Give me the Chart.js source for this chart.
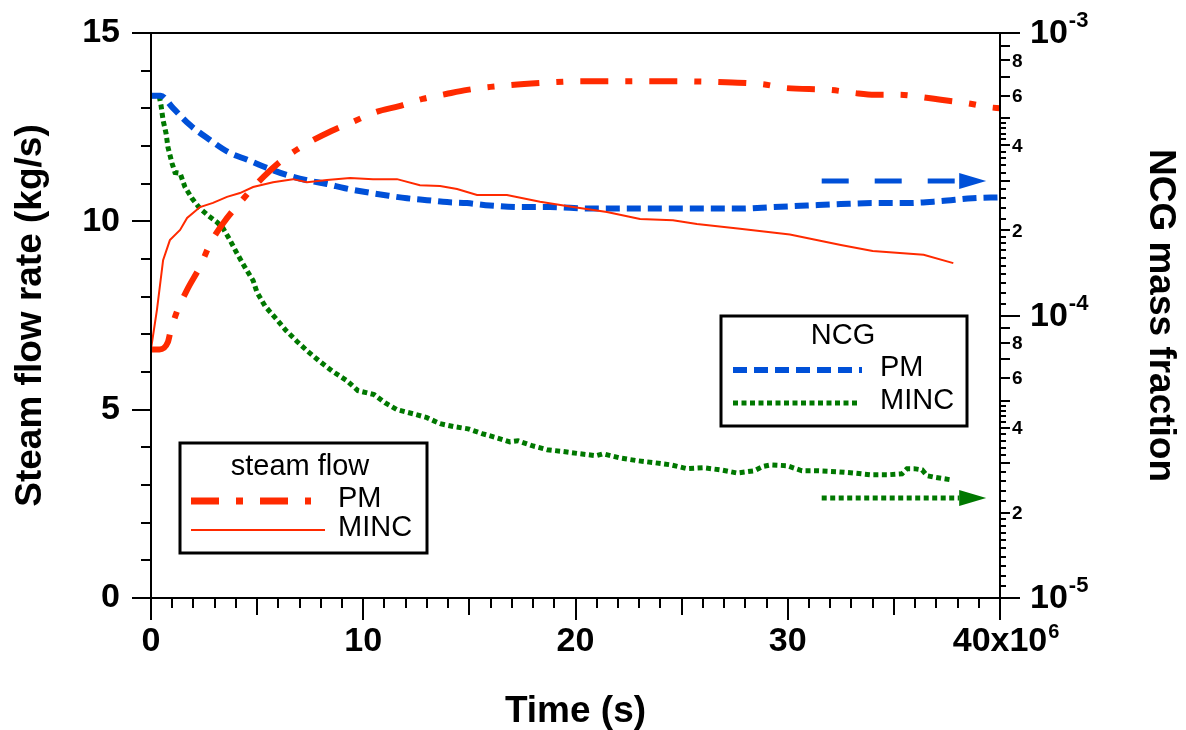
<!DOCTYPE html>
<html>
<head>
<meta charset="utf-8">
<title>Steam flow rate and NCG mass fraction</title>
<script src="https://cdn.jsdelivr.net/npm/chart.js@4.4.1/dist/chart.umd.min.js"></script>
<style>
  html, body { margin: 0; padding: 0; background: #fff; }
  #wrap { width: 1186px; height: 730px; }
</style>
</head>
<body>
<div id="wrap"><canvas id="chart" width="1186" height="730"></canvas></div>
<script>
// values, time in units of 1e6 s

const steamPmTime = [0, 0.4, 0.8, 0.9, 1.2, 1.7, 2.3, 2.8, 3.4, 4.3, 5.3, 6.3, 7.4, 8.5, 9.5, 10.6, 11.7, 12.8, 13.9, 14.9, 16.0, 18.3, 20.3, 22.3, 24.5, 26.7, 28.8, 29.9, 32.0, 33.1, 34.1, 35.2, 36.3, 37.3, 38.4, 39.5, 40];
const steamPmFlow = [6.6, 6.6, 6.8, 7.03, 7.57, 8.18, 8.79, 9.42, 9.95, 10.57, 11.18, 11.68, 12.08, 12.40, 12.64, 12.90, 13.06, 13.25, 13.38, 13.49, 13.57, 13.67, 13.72, 13.72, 13.72, 13.70, 13.64, 13.54, 13.49, 13.41, 13.36, 13.36, 13.30, 13.22, 13.14, 13.03, 13.0];

const steamMincTime = [0, 0.28, 0.57, 0.89, 1.37, 1.70, 2.31, 2.92, 3.58, 4.19, 4.81, 5.75, 6.69, 7.35, 8.29, 9.38, 10.46, 11.59, 12.67, 13.62, 14.42, 15.36, 16.77, 18.33, 19.88, 21.48, 23.04, 24.59, 25.72, 27.75, 30.1, 32.5, 34.0, 36.4, 37.8];
const steamMincFlow = [6.61, 7.65, 8.97, 9.50, 9.77, 10.09, 10.38, 10.49, 10.65, 10.75, 10.91, 11.04, 11.12, 11.04, 11.10, 11.15, 11.12, 11.12, 10.96, 10.94, 10.86, 10.70, 10.70, 10.52, 10.38, 10.25, 10.06, 10.03, 9.93, 9.80, 9.65, 9.37, 9.21, 9.11, 8.89];

const ncgPmTime = [0, 0.45, 1.04, 1.84, 2.78, 3.63, 4.57, 5.51, 6.41, 7.35, 8.29, 9.14, 10.18, 11.12, 12.06, 13.0, 13.95, 14.89, 15.97, 17.53, 18.8, 20.68, 23.04, 25.4, 27.75, 29.3, 30.9, 32.5, 34.0, 35.6, 37.2, 38.7, 40];
const ncgPmFrac = [6.0e-4, 6.0e-4, 5.42e-4, 4.72e-4, 4.18e-4, 3.79e-4, 3.55e-4, 3.32e-4, 3.14e-4, 3.01e-4, 2.92e-4, 2.82e-4, 2.73e-4, 2.66e-4, 2.60e-4, 2.56e-4, 2.52e-4, 2.50e-4, 2.45e-4, 2.42e-4, 2.42e-4, 2.39e-4, 2.39e-4, 2.39e-4, 2.39e-4, 2.42e-4, 2.45e-4, 2.48e-4, 2.50e-4, 2.50e-4, 2.54e-4, 2.60e-4, 2.62e-4];

const ncgMincTime = [0, 0.38, 0.47, 0.57, 0.71, 0.80, 0.99, 1.13, 1.37, 1.60, 1.93, 2.31, 2.69, 3.11, 3.39, 3.72, 4.05, 4.43, 4.81, 4.99, 5.37, 5.89, 6.36, 6.88, 7.40, 7.96, 8.57, 9.23, 9.75, 10.51, 11.02, 11.59, 12.34, 13.0, 13.62, 14.28, 14.94, 15.59, 16.30, 16.91, 17.29, 17.95, 18.66, 19.41, 20.21, 20.97, 21.30, 22.10, 22.95, 23.75, 24.50, 25.25, 26.05, 26.86, 27.61, 28.41, 28.83, 29.21, 29.96, 30.67, 31.47, 32.32, 33.07, 33.92, 34.72, 35.38, 35.62, 35.95, 36.33, 36.56, 36.98, 37.69];
const ncgMincFrac = [6.0e-4, 6.0e-4, 5.56e-4, 4.91e-4, 4.41e-4, 3.94e-4, 3.46e-4, 3.21e-4, 3.19e-4, 2.85e-4, 2.60e-4, 2.39e-4, 2.26e-4, 2.14e-4, 2.04e-4, 1.85e-4, 1.66e-4, 1.48e-4, 1.33e-4, 1.21e-4, 1.08e-4, 9.75e-5, 8.85e-5, 8.09e-5, 7.45e-5, 6.87e-5, 6.33e-5, 5.88e-5, 5.42e-5, 5.25e-5, 4.91e-5, 4.64e-5, 4.49e-5, 4.35e-5, 4.14e-5, 4.04e-5, 3.97e-5, 3.82e-5, 3.69e-5, 3.57e-5, 3.60e-5, 3.46e-5, 3.35e-5, 3.30e-5, 3.24e-5, 3.19e-5, 3.24e-5, 3.13e-5, 3.06e-5, 3.01e-5, 2.96e-5, 2.87e-5, 2.89e-5, 2.84e-5, 2.77e-5, 2.82e-5, 2.92e-5, 2.96e-5, 2.94e-5, 2.82e-5, 2.82e-5, 2.80e-5, 2.77e-5, 2.73e-5, 2.73e-5, 2.75e-5, 2.87e-5, 2.87e-5, 2.84e-5, 2.71e-5, 2.67e-5, 2.62e-5];

// arrows pointing at the right axis: [start, tip] time, NCG level
const arrowTimes = [31.6, 39.35];
const arrowLevelPM = 3.0e-4;
const arrowLevelMINC = 2.26e-5;

// right axis labelling
const ncgDecadeExps = [-5, -4, -3];
const ncgLabelledMantissas = [2, 4, 6, 8];
const ncgMidMantissas = [2, 3, 4, 5, 6, 7, 8, 9];
const ncgFineMantissas = [1.1, 1.2, 1.3, 1.4, 1.5, 1.6, 1.7, 1.8, 1.9, 2.2, 2.4, 2.6, 2.8, 3.2, 3.4, 3.6, 3.8, 4.2, 4.4, 4.6, 4.8];

const FONT = '"Liberation Sans", Arial, Helvetica, sans-serif';
const RED = '#ff2a00';
const BLUE = '#0050d8';
const GREEN = '#007800';
const PM_DASH = [28, 17, 7, 17];
const NCG_PM_DASH = [14, 7];
const DOTS = [5, 3.5];

function pts(xs, ys) {
  return xs.map((x, i) => ({ x: x, y: ys[i] }));
}

function drawArrow(ctx, xS, yS, level, color, dash) {
  const x0 = xS.getPixelForValue(arrowTimes[0]);
  const x1 = xS.getPixelForValue(arrowTimes[1]);
  const y = Math.round(yS.getPixelForValue(level));
  const head = 27;
  ctx.strokeStyle = color;
  ctx.lineWidth = 5;
  ctx.setLineDash(dash);
  ctx.beginPath();
  ctx.moveTo(x0, y);
  ctx.lineTo(x1 - head, y);
  ctx.stroke();
  ctx.setLineDash([]);
  ctx.fillStyle = color;
  ctx.beginPath();
  ctx.moveTo(x1 - head, y - 8);
  ctx.lineTo(x1, y);
  ctx.lineTo(x1 - head, y + 8);
  ctx.closePath();
  ctx.fill();
}

function drawLegend(ctx, box, title, rows) {
  ctx.lineWidth = 3;
  ctx.strokeStyle = '#000';
  ctx.setLineDash([]);
  ctx.strokeRect(box.x, box.y, box.w, box.h);
  ctx.fillStyle = '#000';
  ctx.font = '29px ' + FONT;
  ctx.textBaseline = 'middle';
  ctx.textAlign = 'center';
  ctx.fillText(title, box.titleX, box.titleY);
  ctx.textAlign = 'left';
  rows.forEach((r) => {
    ctx.strokeStyle = r.color;
    ctx.lineWidth = r.width;
    ctx.setLineDash(r.dash);
    ctx.beginPath();
    ctx.moveTo(box.lineX0, r.y);
    ctx.lineTo(r.x1, r.y);
    ctx.stroke();
    ctx.setLineDash([]);
    ctx.fillStyle = '#000';
    ctx.fillText(r.text, box.textX, r.y - 2);
  });
}

const decorations = {
  id: 'decorations',
  afterDatasetsDraw(chart) {
    const { ctx, chartArea: a } = chart;
    const xS = chart.scales.x, yS = chart.scales.y, rS = chart.scales.y1;
    ctx.save();

    drawArrow(ctx, xS, rS, arrowLevelPM, BLUE, [27, 26]);
    drawArrow(ctx, xS, rS, arrowLevelMINC, GREEN, DOTS);

    // frame and ticks
    ctx.strokeStyle = '#000';
    ctx.lineWidth = 2;
    ctx.setLineDash([]);
    ctx.strokeRect(a.left, a.top, a.right - a.left, a.bottom - a.top);
    ctx.beginPath();
    for (let v = 0; v <= 15; v++) {
      const py = Math.round(yS.getPixelForValue(v));
      ctx.moveTo(a.left, py);
      ctx.lineTo(a.left - (v % 5 === 0 ? 19 : 10), py);
    }
    for (let t = 0; t <= 40; t++) {
      const px = Math.round(xS.getPixelForValue(t));
      ctx.moveTo(px, a.bottom);
      ctx.lineTo(px, a.bottom + (t % 10 === 0 ? 22 : t % 5 === 0 ? 17 : 10));
    }
    ncgDecadeExps.forEach((e) => {
      const d = Math.pow(10, e);
      let py = Math.round(rS.getPixelForValue(d));
      ctx.moveTo(a.right, py);
      ctx.lineTo(a.right + 20, py);
      if (e === -3) return;
      ncgMidMantissas.forEach((m) => {
        py = Math.round(rS.getPixelForValue(m * d));
        ctx.moveTo(a.right, py);
        ctx.lineTo(a.right + 10, py);
      });
      ncgFineMantissas.forEach((m) => {
        py = Math.round(rS.getPixelForValue(m * d));
        ctx.moveTo(a.right, py);
        ctx.lineTo(a.right + 6, py);
      });
    });
    ctx.stroke();

    // right axis labels
    ctx.fillStyle = '#000';
    ctx.textAlign = 'left';
    ctx.textBaseline = 'middle';
    ncgDecadeExps.forEach((e) => {
      const d = Math.pow(10, e);
      const py = rS.getPixelForValue(d);
      ctx.font = 'bold 34px ' + FONT;
      ctx.fillText('10', a.right + 30, py + 1);
      const w = ctx.measureText('10').width;
      ctx.font = 'bold 22px ' + FONT;
      ctx.fillText(String(e), a.right + 31 + w, py - 12);
      if (e === -3) return;
      ctx.font = 'bold 19px ' + FONT;
      ncgLabelledMantissas.forEach((m) => {
        ctx.fillText(String(m), a.right + 12, rS.getPixelForValue(m * d) + 1);
      });
    });

    // superscript of the last time label
    ctx.font = 'bold 34px ' + FONT;
    const wx = ctx.measureText('40x10').width;
    ctx.font = 'bold 20px ' + FONT;
    ctx.textBaseline = 'middle';
    ctx.fillText('6', xS.getPixelForValue(40) + wx / 2 + 1, 632);

    drawLegend(ctx,
      { x: 180, y: 443, w: 247, h: 110, titleX: 300, titleY: 467, lineX0: 191, textX: 338 },
      'steam flow',
      [
        { text: 'PM', y: 501, x1: 311, color: RED, width: 7, dash: PM_DASH },
        { text: 'MINC', y: 530, x1: 325, color: RED, width: 2, dash: [] }
      ]);
    drawLegend(ctx,
      { x: 721, y: 316, w: 246, h: 110, titleX: 843, titleY: 336, lineX0: 733, textX: 880 },
      'NCG',
      [
        { text: 'PM', y: 370, x1: 862, color: BLUE, width: 6, dash: NCG_PM_DASH },
        { text: 'MINC', y: 403, x1: 860, color: GREEN, width: 5, dash: DOTS }
      ]);

    ctx.restore();
  }
};

const tickFont = { family: FONT, size: 34, weight: 'bold' };
const titleFont = { family: FONT, size: 37, weight: 'bold', lineHeight: 1 };

new Chart(document.getElementById('chart'), {
  type: 'line',
  data: {
    datasets: [
      { label: 'steam flow PM', data: pts(steamPmTime, steamPmFlow), yAxisID: 'y', borderColor: RED, borderWidth: 6, borderDash: PM_DASH, cubicInterpolationMode: 'monotone' },
      { label: 'steam flow MINC', data: pts(steamMincTime, steamMincFlow), yAxisID: 'y', borderColor: RED, borderWidth: 2 },
      { label: 'NCG PM', data: pts(ncgPmTime, ncgPmFrac), yAxisID: 'y1', borderColor: BLUE, borderWidth: 6, borderDash: NCG_PM_DASH, cubicInterpolationMode: 'monotone' },
      { label: 'NCG MINC', data: pts(ncgMincTime, ncgMincFrac), yAxisID: 'y1', borderColor: GREEN, borderWidth: 5, borderDash: DOTS }
    ]
  },
  options: {
    responsive: false,
    animation: false,
    elements: { point: { radius: 0 } },
    layout: { padding: { top: 33, left: 0, right: 0, bottom: 0 } },
    plugins: { legend: { display: false }, tooltip: { enabled: false } },
    scales: {
      x: {
        type: 'linear', min: 0, max: 40,
        afterFit: (s) => { s.height = 132; s.paddingLeft = 0; s.paddingRight = 0; },
        grid: { display: false, drawTicks: false },
        border: { display: false },
        ticks: { stepSize: 10, padding: 23, maxRotation: 0, autoSkip: false, color: '#000', font: tickFont,
          callback: (v) => (v === 40 ? '40x10' : String(v)) },
        title: { display: true, text: 'Time (s)', color: '#000', font: titleFont, padding: 0 }
      },
      y: {
        position: 'left', min: 0, max: 15,
        afterFit: (s) => { s.width = 151; s.paddingTop = 0; s.paddingBottom = 0; },
        grid: { display: false, drawTicks: false },
        border: { display: false },
        ticks: { stepSize: 5, padding: 31, color: '#000', font: tickFont },
        title: { display: true, text: 'Steam flow rate (kg/s)', color: '#000', font: titleFont, padding: { top: 12, bottom: 0 } }
      },
      y1: {
        type: 'logarithmic', position: 'right', min: 1e-5, max: 1e-3,
        afterFit: (s) => { s.width = 186; s.paddingTop = 0; s.paddingBottom = 0; },
        grid: { display: false, drawTicks: false },
        border: { display: false },
        ticks: { display: false },
        title: { display: true, text: 'NCG mass fraction', color: '#000', font: titleFont, padding: { top: 7, bottom: 0 } }
      }
    }
  },
  plugins: [decorations]
});
</script>
</body>
</html>
